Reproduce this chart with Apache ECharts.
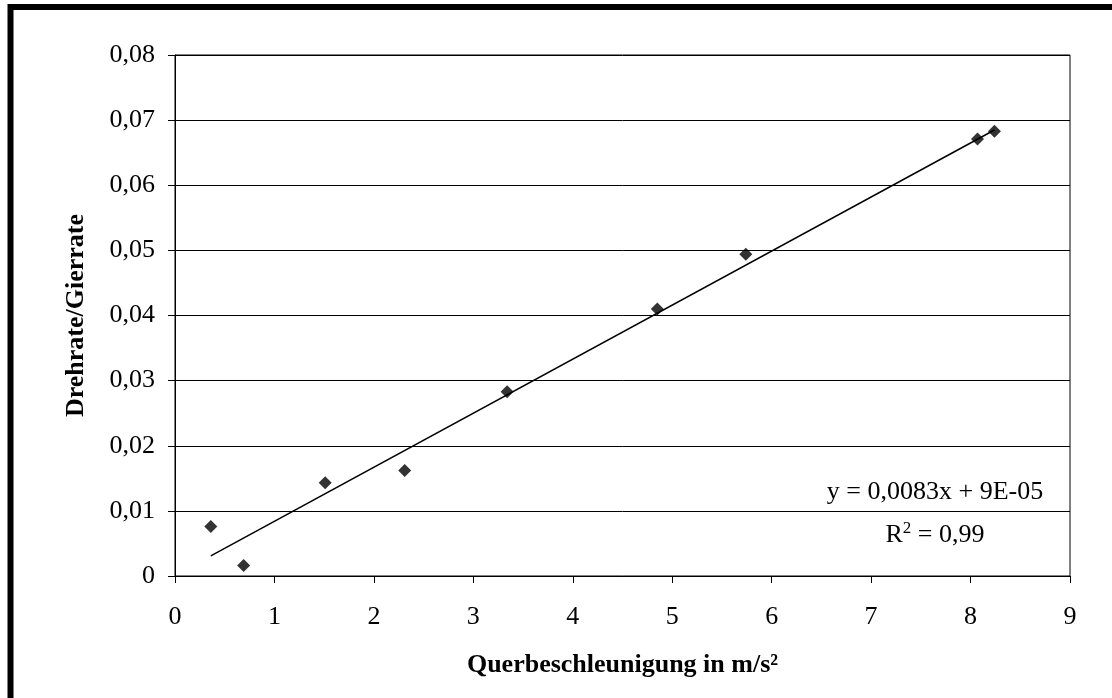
<!DOCTYPE html>
<html>
<head>
<meta charset="utf-8">
<script src="https://cdn.jsdelivr.net/npm/echarts@6/dist/echarts.min.js"></script>
<style>
  html, body { margin: 0; padding: 0; background: #fff; }
  #chart { width: 1112px; height: 698px; }
</style>
</head>
<body>
<div id="chart"></div>
<script>
// Lateral acceleration (m/s²) vs. yaw-rate ratio measurements
const querbeschleunigung = [0.36, 0.69, 1.51, 2.31, 3.34, 4.85, 5.74, 8.07, 8.24];
const drehrateGierrate = [0.0076, 0.0016, 0.0143, 0.0162, 0.0283, 0.0410, 0.0494, 0.0671, 0.0683];

// Linear trend line as stated by its equation
const trendSlope = 0.0083;
const trendIntercept = 0.00009;
const trendEquation = 'y = 0,0083x + 9E-05';
const trendR2 = '0,99';

const xTicks = { min: 0, max: 9, interval: 1 };
const yTicks = { min: 0, max: 0.08, interval: 0.01 };

const points = querbeschleunigung.map((x, i) => [x, drehrateGierrate[i]]);
const xMin = Math.min(...querbeschleunigung);
const xMax = Math.max(...querbeschleunigung);
const trendLine = [xMin, xMax].map(x => [x, trendSlope * x + trendIntercept]);

const serif = "'Liberation Serif', 'Times New Roman', serif";

const chart = echarts.init(document.getElementById('chart'), null, { renderer: 'canvas' });
chart.setOption({
  backgroundColor: '#fff',
  animation: false,
  grid: {
    left: 175, right: 42, top: 55, bottom: 122,
    show: true, borderColor: '#000', borderWidth: 1, backgroundColor: 'transparent'
  },
  xAxis: {
    type: 'value',
    min: xTicks.min, max: xTicks.max, interval: xTicks.interval,
    name: 'Querbeschleunigung in m/s²',
    nameLocation: 'middle',
    nameGap: 76,
    nameTextStyle: { fontFamily: serif, fontSize: 26, fontWeight: 'bold', color: '#000' },
    axisLine: { show: true, lineStyle: { color: '#000', width: 1 } },
    axisTick: { show: true, length: 7, inside: false, lineStyle: { color: '#000' } },
    axisLabel: { fontFamily: serif, fontSize: 26, color: '#000', margin: 28 },
    splitLine: { show: false }
  },
  yAxis: {
    type: 'value',
    min: yTicks.min, max: yTicks.max, interval: yTicks.interval,
    name: 'Drehrate/Gierrate',
    nameLocation: 'middle',
    nameGap: 86,
    nameTextStyle: { fontFamily: serif, fontSize: 26, fontWeight: 'bold', color: '#000' },
    axisLine: { show: true, lineStyle: { color: '#000', width: 1 } },
    axisTick: { show: true, length: 7, inside: false, lineStyle: { color: '#000' } },
    axisLabel: {
      fontFamily: serif, fontSize: 26, color: '#000', margin: 20,
      formatter: v => (Math.abs(v) < 1e-9 ? '0' : v.toFixed(2).replace('.', ','))
    },
    splitLine: { show: true, lineStyle: { color: '#000', width: 1 } }
  },
  series: [
    {
      type: 'line',
      data: trendLine,
      symbol: 'none',
      lineStyle: { color: '#000', width: 1.5 },
      silent: true,
      z: 2
    },
    {
      type: 'scatter',
      data: points,
      symbol: 'diamond',
      symbolSize: 13,
      itemStyle: { color: '#000' },
      z: 3
    }
  ],
  graphic: [
    {
      type: 'rect',
      shape: { x: 10.5, y: 7, width: 1200, height: 800 },
      style: { fill: 'none', stroke: '#000', lineWidth: 6 },
      silent: true
    },
    {
      type: 'text',
      x: 935, y: 492,
      style: {
        text: trendEquation,
        font: '26px ' + serif,
        fill: '#000',
        align: 'center',
        verticalAlign: 'middle'
      }
    },
    {
      type: 'text',
      x: 935, y: 535,
      style: {
        text: '{b|R}{s|2}{b| = ' + trendR2 + '}',
        align: 'center',
        verticalAlign: 'middle',
        rich: {
          b: { fontFamily: serif, fontSize: 26, color: '#000' },
          s: { fontFamily: serif, fontSize: 17, color: '#000', verticalAlign: 'top', padding: [0, 0, 12, 0] }
        }
      }
    }
  ]
});
</script>
</body>
</html>
